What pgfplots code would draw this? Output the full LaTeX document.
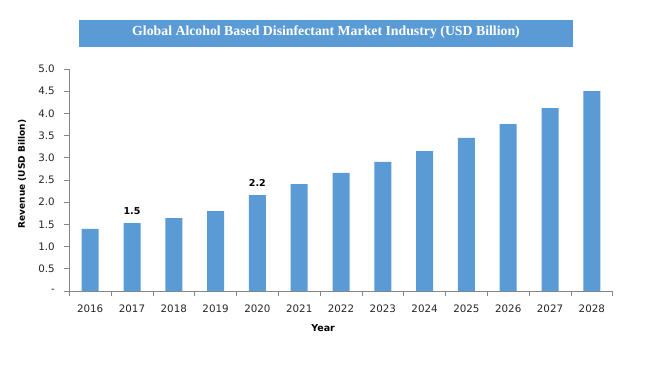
\documentclass[border=0pt]{standalone}
\usepackage{pgfplots}
\pgfplotsset{compat=1.18}
\usepackage{fontspec}
\setmainfont{DejaVu Sans}
\newfontfamily\titlefont{Liberation Serif}
\definecolor{barblue}{HTML}{5B9BD5}
\definecolor{axgray}{HTML}{868686}
\begin{document}
\begin{tikzpicture}
\path[use as bounding box] (0pt,0pt) rectangle (652pt,-365pt);
\fill[barblue] (79pt,-20pt) rectangle (573pt,-46.5pt);
\node[text=white,font=\titlefont\bfseries\fontsize{13.8}{16}\selectfont] at (326pt,-32.5pt) {Global Alcohol Based Disinfectant Market Industry (USD Billion)};
\begin{axis}[
  at={(69.3pt,-291pt)}, anchor=south west,
  scale only axis, width=543.4pt, height=222pt,
  ybar, bar width=17pt, bar shift=0pt,
  xmin=-0.5, xmax=12.5, ymin=0, ymax=5,
  axis x line*=bottom, axis y line*=left,
  axis line style={axgray, line width=0.8pt},
  tick align=outside,
  xtick={0,...,12},
  xticklabels={2016,2017,2018,2019,2020,2021,2022,2023,2024,2025,2026,2027,2028},
  major x tick style={draw=none},
  minor xtick={-0.5,0.5,...,12.5},
  minor tick length=5pt, major tick length=5pt,
  ytick={0,0.5,...,5},
  yticklabels={-,0.5,1.0,1.5,2.0,2.5,3.0,3.5,4.0,4.5,5.0},
  tick style={axgray, line width=0.8pt},
  ticklabel style={font=\fontsize{10.3}{12}\selectfont, text=black!85},
  xticklabel style={yshift=-5pt},
  yticklabel style={xshift=-6pt},
  every axis y label/.style={at={(axis description cs:-0.087,0.527)},rotate=90,anchor=center,font=\bfseries\fontsize{9}{10}\selectfont},
  every axis x label/.style={at={(axis description cs:0.467,-0.167)},anchor=center,font=\bfseries\fontsize{9.5}{11}\selectfont},
  ylabel={Revenue (USD Billon)},
  xlabel={Year},
  clip=false,
]
\addplot[fill=barblue, draw=none] coordinates {
  (0,1.40) (1,1.53) (2,1.64) (3,1.80) (4,2.16) (5,2.41) (6,2.66)
  (7,2.91) (8,3.15) (9,3.45) (10,3.76) (11,4.12) (12,4.50)
};
\addplot[draw=none, fill=none,
  nodes near coords={\pgfmathprintnumber[fixed,precision=1,assume math mode=true]{\pgfplotspointmeta}},
  every node near coord/.append style={font=\bfseries\fontsize{9.5}{10}\selectfont, text=black, yshift=5pt}]
  coordinates {(1,1.53) (4,2.16)};
\end{axis}
\end{tikzpicture}
\end{document}
